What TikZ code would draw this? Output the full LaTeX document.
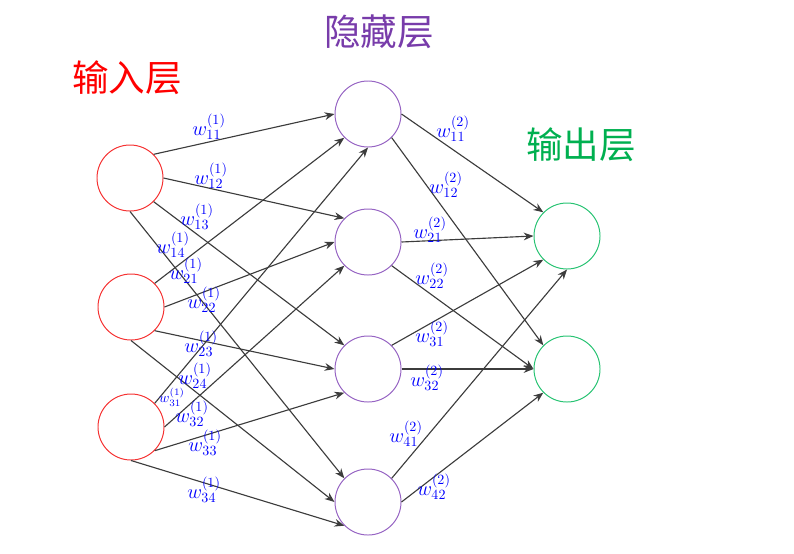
\documentclass[tikz,border=0pt]{standalone}
\usepackage{fontspec}
\newfontfamily\cjk{Noto Sans CJK SC}
\usetikzlibrary{arrows.meta}
\definecolor{inred}{RGB}{245,50,50}
\definecolor{hidpurple}{RGB}{150,100,195}
\definecolor{titlepurple}{RGB}{120,60,170}
\definecolor{outgreen}{RGB}{40,195,115}
\definecolor{titlegreen}{RGB}{0,176,80}
\definecolor{edgegray}{RGB}{60,60,60}
\begin{document}
\begin{tikzpicture}[x=0.025cm,y=-0.025cm,
	neuron/.style={circle, minimum size=16.5mm, inner sep=0pt, line width=0.7pt},
	title/.style={font=\cjk\fontsize{26}{30}\selectfont},
	wlabel/.style={text=blue, font=\Large, inner sep=0pt},
	edge/.style={draw=edgegray, line width=0.8pt, -{Stealth[length=7pt,width=5.5pt]}}]
	
	\useasboundingbox (0,0) rectangle (794,553);
	
	%Nodes
	\node[neuron, draw=inred]	(in1)	at (130,178)	{};
	\node[neuron, draw=inred]	(in2)	at (131,307)	{};
	\node[neuron, draw=inred]	(in3)	at (131,427)	{};
	\node[neuron, draw=hidpurple]	(hid1)	at (368,114)	{};
	\node[neuron, draw=hidpurple]	(hid2)	at (368,242)	{};
	\node[neuron, draw=hidpurple]	(hid3)	at (368,369)	{};
	\node[neuron, draw=hidpurple]	(hid4)	at (368,502)	{};
	\node[neuron, draw=outgreen]	(out1)	at (567,236)	{};
	\node[neuron, draw=outgreen]	(out2)	at (567,369)	{};
	
	%Titles
	\node[title, text=red]	(tin)	at (127,78)	{输入层};
	\node[title, text=titlepurple]	(thid)	at (379,32)	{隐藏层};
	\node[title, text=titlegreen]	(tout)	at (581,145)	{输出层};
	
	%Lines
	\draw[edge] (in1.45) -- (hid1.180);
	\draw[edge] (in1.0) -- (hid2.135);
	\draw[edge] (in1.-45) -- (hid3.135);
	\draw[edge] (in1.-90) -- (hid4.135);
	\draw[edge] (in2.45) -- (hid1.-135);
	\draw[edge] (in2.0) -- (hid2.180);
	\draw[edge] (in2.-45) -- (hid3.180);
	\draw[edge] (in2.-90) -- (hid4.180);
	\draw[edge] (in3.45) -- (hid1.-90);
	\draw[edge] (in3.0) -- (hid2.-135);
	\draw[edge] (in3.-45) -- (hid3.-135);
	\draw[edge] (in3.-90) -- (hid4.-135);
	\draw[edge] (hid1.0) -- (out1.135);
	\draw[edge] (hid1.-45) -- (out2.135);
	\draw[edge] (hid2.0) -- (out1.180);
	\draw[edge] (hid2.-45) -- (out2.180);
	\draw[edge] (hid3.45) -- (out1.-135);
	\draw[edge] (hid3.0) -- (out2.180);
	\draw[edge] (hid4.45) -- (out1.-90);
	\draw[edge] (hid4.0) -- (out2.-135);
	
	%Labels
	\node[wlabel]	(w111)	at (209,127)	{$w^{(1)}_{11}$};
	\node[wlabel]	(w112)	at (211,176)	{$w^{(1)}_{12}$};
	\node[wlabel]	(w113)	at (197,217)	{$w^{(1)}_{13}$};
	\node[wlabel]	(w114)	at (173,245)	{$w^{(1)}_{14}$};
	\node[wlabel]	(w121)	at (186,271)	{$w^{(1)}_{21}$};
	\node[wlabel]	(w122)	at (204,300)	{$w^{(1)}_{22}$};
	\node[wlabel]	(w123)	at (201,344)	{$w^{(1)}_{23}$};
	\node[wlabel]	(w124)	at (195,376)	{$w^{(1)}_{24}$};
	\node[wlabel, font=\normalsize]	(w131)	at (172,397)	{$w^{(1)}_{31}$};
	\node[wlabel]	(w132)	at (192,414)	{$w^{(1)}_{32}$};
	\node[wlabel]	(w133)	at (205,443)	{$w^{(1)}_{33}$};
	\node[wlabel]	(w134)	at (204,490)	{$w^{(1)}_{34}$};
	\node[wlabel]	(w211)	at (453,129)	{$w^{(2)}_{11}$};
	\node[wlabel]	(w212)	at (446,185)	{$w^{(2)}_{12}$};
	\node[wlabel]	(w221)	at (430,230)	{$w^{(2)}_{21}$};
	\node[wlabel]	(w222)	at (432,276)	{$w^{(2)}_{22}$};
	\node[wlabel]	(w231)	at (432,334)	{$w^{(2)}_{31}$};
	\node[wlabel]	(w232)	at (427,378)	{$w^{(2)}_{32}$};
	\node[wlabel]	(w241)	at (406,434)	{$w^{(2)}_{41}$};
	\node[wlabel]	(w242)	at (434,487)	{$w^{(2)}_{42}$};
\end{tikzpicture}
\end{document}
